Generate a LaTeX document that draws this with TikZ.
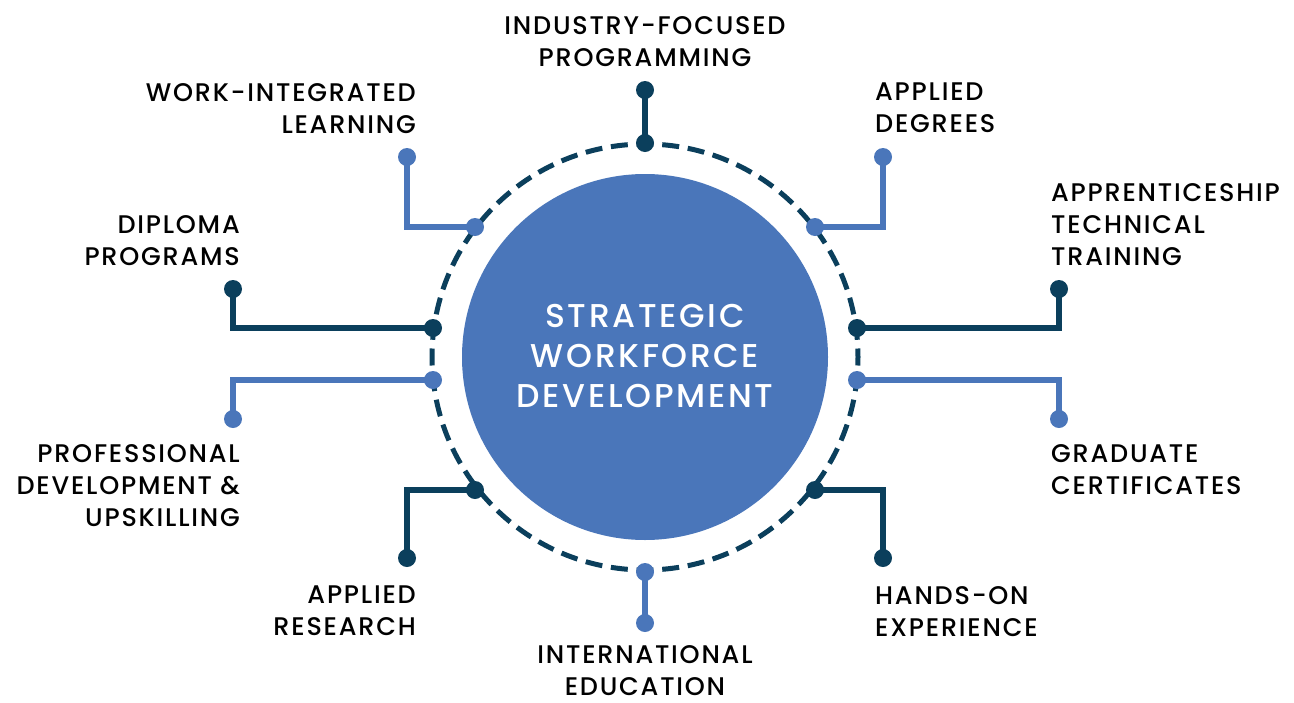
\documentclass[tikz,border=0pt]{standalone}
\usepackage{fontspec}
\setmainfont{Poppins}[UprightFont=* Medium]
\newfontfamily\labfont{Poppins}[UprightFont=* Medium,LetterSpace=7]
\newfontfamily\corefont{Poppins}[UprightFont=* Medium,LetterSpace=8]
\definecolor{lblue}{HTML}{4A76BA}
\definecolor{dblue}{HTML}{0B3F5C}
\begin{document}
\begin{tikzpicture}[x=1pt,y=-1pt,
  dot/.style={circle,fill=#1,minimum size=18pt,inner sep=0pt},
  conn/.style={line width=5.5pt,draw=#1},
  lab/.style={font=\labfont\fontsize{25.5}{32}\selectfont,text=black,inner sep=0pt},
  labL/.style={lab,align=left,anchor=north west},
  labR/.style={lab,align=right,anchor=north east},
  labC/.style={lab,align=center,anchor=north}]
\useasboundingbox (0,0) rectangle (1294,702);
% core
\node[circle,fill=lblue,minimum size=366pt,inner sep=0pt] (core) at (645,357) {};
\node[font=\corefont\fontsize{33}{40}\selectfont,text=white,align=center,anchor=north,inner sep=0pt] (coretext) at (645,304) {STRATEGIC\\WORKFORCE\\DEVELOPMENT};
\draw[dblue,line width=5pt,dash pattern=on 17pt off 8.74pt,dash phase=8.5pt] (645,357) circle[radius=213];
% dots on ring
\node[dot=dblue] (i1) at (645,143) {};
\node[dot=lblue] (i2) at (815,227) {};
\node[dot=dblue] (i3) at (857,328) {};
\node[dot=lblue] (i4) at (857,380) {};
\node[dot=dblue] (i5) at (815,490) {};
\node[dot=lblue] (i6) at (645,572) {};
\node[dot=dblue] (i7) at (475,490) {};
\node[dot=lblue] (i8) at (433,380) {};
\node[dot=dblue] (i9) at (433,328) {};
\node[dot=lblue] (i10) at (475,227) {};
% outer dots
\node[dot=dblue] (o1) at (645,90) {};
\node[dot=lblue] (o2) at (883,157) {};
\node[dot=dblue] (o3) at (1059,289) {};
\node[dot=lblue] (o4) at (1059,419) {};
\node[dot=dblue] (o5) at (883,558) {};
\node[dot=lblue] (o6) at (645,623) {};
\node[dot=dblue] (o7) at (407,558) {};
\node[dot=lblue] (o8) at (233,419) {};
\node[dot=dblue] (o9) at (233,289) {};
\node[dot=lblue] (o10) at (407,157) {};
% connectors
\draw[conn=dblue] (i1.center) -- (o1.center);
\draw[conn=lblue] (i2.center) -| (o2.center);
\draw[conn=dblue] (i3.center) -| (o3.center);
\draw[conn=lblue] (i4.center) -| (o4.center);
\draw[conn=dblue] (i5.center) -| (o5.center);
\draw[conn=lblue] (i6.center) -- (o6.center);
\draw[conn=dblue] (i7.center) -| (o7.center);
\draw[conn=lblue] (i8.center) -| (o8.center);
\draw[conn=dblue] (i9.center) -| (o9.center);
\draw[conn=lblue] (i10.center) -| (o10.center);
% labels
\node[labC] (l1) at (645,16) {INDUSTRY-FOCUSED\\PROGRAMMING};
\node[labL] (l2) at (875,83) {APPLIED\\DEGREES};
\node[labL] (l3) at (1051,183) {APPRENTICESHIP\\TECHNICAL\\TRAINING};
\node[labL] (l4) at (1051,444) {GRADUATE\\CERTIFICATES};
\node[labL] (l5) at (875,586) {HANDS-ON\\EXPERIENCE};
\node[labC] (l6) at (645,645) {INTERNATIONAL\\EDUCATION};
\node[labR] (l7) at (416,586) {APPLIED\\RESEARCH};
\node[labR] (l8) at (240,444) {PROFESSIONAL\\DEVELOPMENT \&\\UPSKILLING};
\node[labR] (l9) at (240,215) {DIPLOMA\\PROGRAMS};
\node[labR] (l10) at (416,83) {WORK-INTEGRATED\\LEARNING};
\end{tikzpicture}
\end{document}
